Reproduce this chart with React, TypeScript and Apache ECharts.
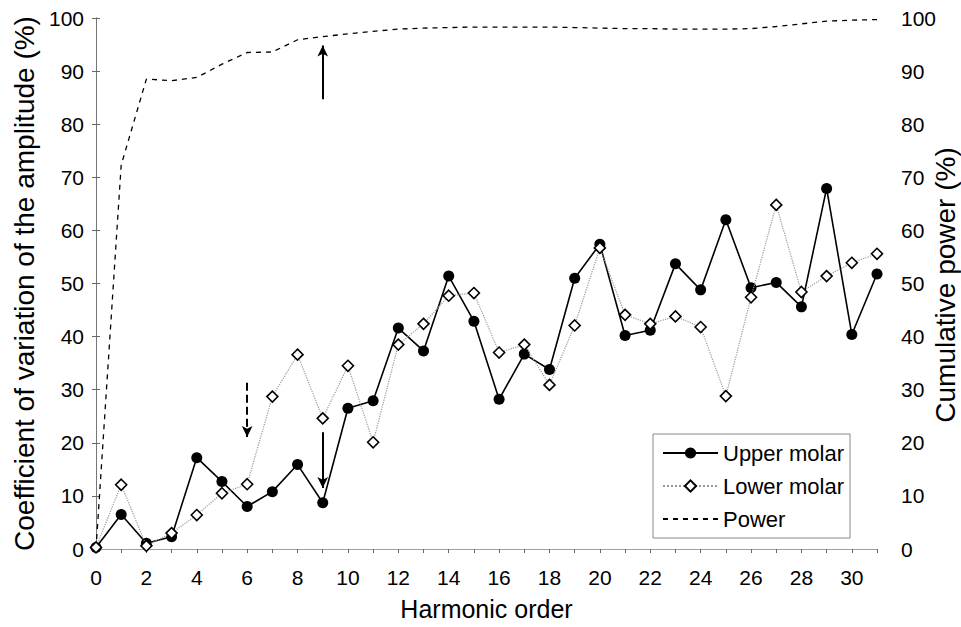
import React, { useEffect, useRef } from "react";
import * as echarts from "echarts";

const harmonics = [0, 1, 2, 3, 4, 5, 6, 7, 8, 9, 10, 11, 12, 13, 14, 15, 16, 17, 18, 19, 20, 21, 22, 23, 24, 25, 26, 27, 28, 29, 30, 31];
const upperMolar = [0.3, 6.5, 1.1, 2.3, 17.2, 12.7, 8.0, 10.8, 15.9, 8.7, 26.5, 27.9, 41.6, 37.3, 51.4, 42.9, 28.2, 36.7, 33.8, 51.0, 57.4, 40.2, 41.2, 53.7, 48.8, 62.0, 49.2, 50.2, 45.6, 67.9, 40.4, 51.8];
const lowerMolar = [0.3, 12.1, 0.6, 3.0, 6.4, 10.5, 12.2, 28.7, 36.6, 24.6, 34.5, 20.1, 38.5, 42.4, 47.7, 48.2, 37.0, 38.5, 30.9, 42.1, 56.7, 44.1, 42.4, 43.8, 41.8, 28.8, 47.4, 64.8, 48.4, 51.4, 53.9, 55.6];
const cumulativePower = [0, 72.3, 88.5, 88.2, 88.8, 91.3, 93.5, 93.6, 95.9, 96.5, 97.0, 97.5, 97.9, 98.1, 98.2, 98.3, 98.3, 98.3, 98.3, 98.2, 98.1, 98.0, 98.0, 97.9, 97.9, 97.9, 98.0, 98.4, 98.9, 99.4, 99.6, 99.7];
const seriesNames = ["Upper molar", "Lower molar", "Power"];

const FONT = "Liberation Sans, Arial, sans-serif";

export default function App() {
  const ref = useRef<HTMLDivElement>(null);
  useEffect(() => {
    if (!ref.current) return;
    const chart = echarts.init(ref.current, undefined, { renderer: "svg" });
    const pairs = (vals: number[]) => harmonics.map((h, i) => [h, vals[i]]);
    chart.setOption({
      animation: false,
      backgroundColor: "#fff",
      textStyle: { fontFamily: FONT },
      grid: { left: 96, right: 84, top: 18, bottom: 78 },
      legend: {
        data: [
          { name: seriesNames[0] },
          { name: seriesNames[1] },
          { name: seriesNames[2], itemStyle: { color: "rgba(0,0,0,0)", borderWidth: 0, opacity: 0 } },
        ],
        orient: "vertical",
        left: 653,
        top: 434,
        padding: [7, 6, 7, 9],
        itemWidth: 55,
        itemHeight: 14,
        itemGap: 9,
        borderColor: "#888",
        borderWidth: 1,
        textStyle: { fontFamily: FONT, fontSize: 22, color: "#000", lineHeight: 24 },
      },
      xAxis: [
        {
          type: "value",
          min: 0,
          max: 31,
          interval: 1,
          name: "Harmonic order",
          nameLocation: "middle",
          nameGap: 47,
          nameTextStyle: { fontFamily: FONT, fontSize: 25, color: "#000" },
          axisLine: { show: true, lineStyle: { color: "#999", type: "dotted", width: 1 } },
          axisTick: { show: true, length: 4, lineStyle: { color: "#666" } },
          axisLabel: {
            fontFamily: FONT,
            fontSize: 21,
            color: "#000",
            margin: 18,
            formatter: (v: number) => (v % 2 === 0 && v <= 30 ? String(v) : ""),
          },
          splitLine: { show: false },
        },
        {
          type: "value",
          position: "top",
          min: 0,
          max: 31,
          axisLine: { show: true, lineStyle: { color: "#999", type: "dotted", width: 1 } },
          axisTick: { show: false },
          axisLabel: { show: false },
          splitLine: { show: false },
        },
      ],
      yAxis: [
        {
          type: "value",
          min: 0,
          max: 100,
          interval: 10,
          name: "Coefficient of variation of the amplitude (%)",
          nameLocation: "middle",
          nameGap: 52,
          nameTextStyle: { fontFamily: FONT, fontSize: 28, color: "#000" },
          axisLine: { show: true, lineStyle: { color: "#777", width: 1 } },
          axisTick: { show: true, length: 4, lineStyle: { color: "#666" } },
          axisLabel: { fontFamily: FONT, fontSize: 21, color: "#000", margin: 12 },
          splitLine: { show: false },
        },
        {
          type: "value",
          position: "right",
          min: 0,
          max: 100,
          interval: 10,
          axisLine: { show: true, lineStyle: { color: "#777", width: 1 } },
          axisTick: { show: true, length: 4, lineStyle: { color: "#666" } },
          axisLabel: { fontFamily: FONT, fontSize: 21, color: "#000", margin: 24 },
          splitLine: { show: false },
        },
      ],
      graphic: [
        {
          type: "text",
          x: 945,
          y: 285,
          rotation: Math.PI / 2,
          style: {
            text: "Cumulative power (%)",
            fontFamily: FONT,
            fontSize: 28,
            fill: "#000",
            align: "center",
            verticalAlign: "middle",
          },
        },
      ],
      series: [
        {
          name: "Upper molar",
          type: "line",
          data: pairs(upperMolar),
          symbol: "circle",
          symbolSize: 11,
          itemStyle: { color: "#000" },
          lineStyle: { color: "#000", width: 1.6 },
          z: 3,
          markLine: {
            silent: true,
            animation: false,
            symbol: ["none", "arrow"],
            symbolSize: [8, 11],
            label: { show: false },
            lineStyle: { color: "#000", width: 2, type: "solid" },
            emphasis: { disabled: true },
            data: [
              [{ coord: [9, 84.7] }, { coord: [9, 94.8] }],
              [{ coord: [6, 31.3], lineStyle: { type: "dashed", width: 2, color: "#000" } }, { coord: [6, 21.1] }],
              [{ coord: [9, 22] }, { coord: [9, 11.5] }],
            ],
          },
        },
        {
          name: "Lower molar",
          type: "line",
          data: pairs(lowerMolar),
          symbol: "diamond",
          symbolSize: 11,
          itemStyle: { color: "#fff", borderColor: "#000", borderWidth: 1.6 },
          lineStyle: { color: "#999", width: 1.2, type: "dotted" },
          z: 4,
        },
        {
          name: "Power",
          type: "line",
          yAxisIndex: 1,
          data: pairs(cumulativePower),
          symbol: "none",
          showSymbol: false,
          itemStyle: { color: "#000" },
          lineStyle: { color: "#000", width: 1.3, type: [5, 5] },
          z: 2,
        },
      ],
    });
    return () => chart.dispose();
  }, []);
  return (
    <div
      ref={ref}
      style={{ position: "fixed", left: 0, top: 0, width: 961, height: 627, background: "#fff" }}
    />
  );
}
